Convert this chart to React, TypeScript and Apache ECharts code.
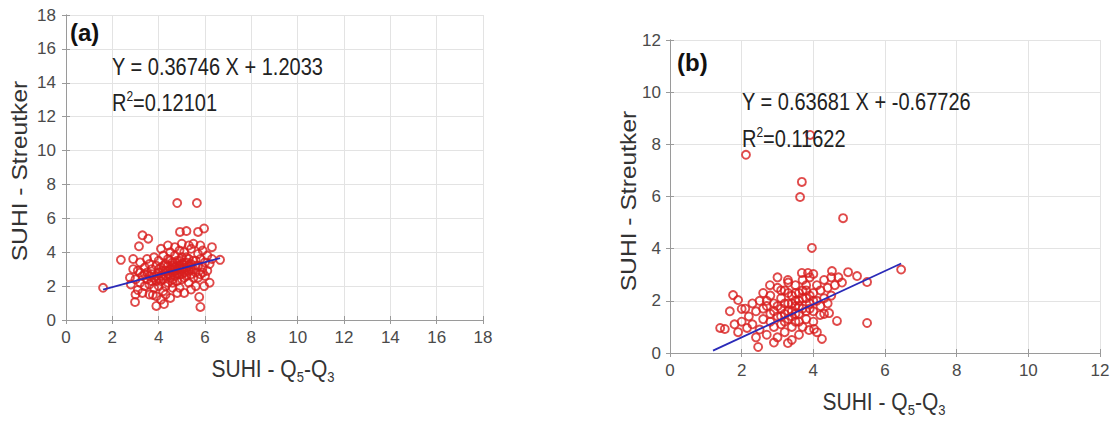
import React, { useEffect, useRef } from "react";
import * as echarts from "echarts";

const pointsA: number[][] = [
  [1.6, 1.9], [2.37, 3.55], [2.9, 3.6], [3.15, 4.35], [3.3, 5.0], [3.55, 4.8], [4.8, 6.9], [5.65, 6.9],
  [4.92, 5.2], [5.2, 5.25], [5.7, 5.2], [5.96, 5.4], [5.5, 4.5], [6.3, 4.3], [6.65, 3.55], [2.98, 1.06],
  [3.1, 1.77], [3.9, 0.83], [4.23, 0.94], [3.75, 1.48], [4.8, 1.6], [5.1, 1.6], [5.75, 1.36], [5.8, 0.77],
  [5.96, 2.0], [6.2, 2.2], [4.6, 2.2], [2.76, 2.5],
  [3.0, 2.4], [3.1, 2.9], [3.2, 2.2], [3.3, 2.6], [3.4, 3.1], [3.4, 2.0], [3.5, 2.8], [3.5, 2.4], [3.6, 3.3],
  [3.6, 2.1], [3.7, 2.7], [3.7, 3.0], [3.8, 2.5], [3.8, 1.9], [3.9, 3.2], [3.9, 2.3], [4.0, 2.8], [4.0, 3.5],
  [4.0, 2.0], [4.1, 2.6], [4.1, 3.1], [4.2, 2.4], [4.2, 3.8], [4.2, 1.7], [4.3, 2.9], [4.3, 3.3], [4.4, 2.2],
  [4.4, 2.7], [4.4, 3.6], [4.5, 3.0], [4.5, 2.5], [4.5, 4.0], [4.6, 2.8], [4.6, 3.4], [4.6, 1.9], [4.7, 3.1],
  [4.7, 2.6], [4.7, 3.8], [4.8, 2.3], [4.8, 2.9], [4.8, 3.5], [4.9, 3.2], [4.9, 2.7], [4.9, 4.1], [5.0, 3.0],
  [5.0, 2.4], [5.0, 3.7], [5.1, 2.8], [5.1, 3.4], [5.1, 4.0], [5.2, 3.1], [5.2, 2.6], [5.3, 3.6], [5.3, 2.9],
  [5.3, 2.2], [5.4, 3.3], [5.4, 4.2], [5.5, 3.0], [5.5, 2.5], [5.6, 3.5], [5.6, 2.8], [5.7, 3.9], [5.7, 3.2],
  [5.8, 2.7], [5.8, 3.6], [5.9, 3.1], [5.9, 4.1], [6.0, 3.4], [6.0, 2.6], [6.1, 3.8], [6.1, 2.9], [6.2, 3.3],
  [6.3, 3.6], [3.2, 3.4], [3.3, 1.6], [3.6, 1.5], [3.9, 1.4], [4.1, 1.2], [4.3, 1.5], [4.5, 1.3], [4.9, 1.9],
  [5.4, 1.8], [5.6, 2.0], [3.5, 3.6], [3.8, 3.7], [4.1, 4.2], [4.4, 4.4], [4.7, 4.3], [5.0, 4.5], [5.3, 4.4],
  [5.8, 4.4], [2.8, 2.1], [2.9, 3.0], [3.0, 1.5], [4.0, 3.0], [4.2, 3.2], [4.6, 3.0], [4.8, 2.7], [5.2, 3.4],
  [4.4, 2.9], [4.3, 2.6], [4.9, 3.5], [5.1, 3.1],
  [4.5, 2.7], [4.6, 3.2], [4.7, 2.9], [4.8, 3.2], [4.9, 3.0], [5.0, 2.7], [5.0, 3.3], [5.1, 2.5], [5.2, 2.9],
  [5.2, 3.7], [5.4, 2.7], [5.4, 3.0], [5.5, 3.5], [5.6, 3.2], [4.2, 2.9], [4.1, 2.3], [3.9, 2.6], [3.7, 2.3],
  [4.4, 3.2], [4.6, 2.4], [4.3, 2.0], [4.0, 2.4], [3.6, 2.6], [5.7, 2.5], [5.9, 2.8], [4.5, 3.5], [4.7, 3.4],
  [5.3, 3.2], [3.4, 2.7], [3.2, 2.8],
];

const pointsB: number[][] = [
  [3.91, 8.36], [2.12, 7.6], [3.68, 6.56], [3.63, 5.98], [4.83, 5.17], [3.96, 4.03], [5.5, 1.15], [5.5, 2.72],
  [4.52, 3.14], [4.97, 3.1], [5.22, 2.95], [4.24, 0.54], [2.46, 0.23], [3.29, 0.38], [4.66, 1.23], [1.4, 0.96],
  [1.53, 0.92], [1.67, 1.6], [1.76, 2.22], [1.9, 2.03], [2.0, 1.69], [2.15, 0.96], [2.79, 2.6], [3.29, 2.8],
  [3.68, 3.07], [3.85, 3.07], [4.0, 3.03], [3.88, 0.88], [4.02, 0.92], [4.44, 1.53], [4.19, 1.46], [6.45, 3.2],
  [2.3, 1.1], [2.4, 1.6], [2.5, 2.0], [2.5, 0.9], [2.6, 1.3], [2.6, 2.3], [2.7, 1.8], [2.7, 0.7], [2.8, 1.5],
  [2.8, 2.2], [2.9, 1.0], [2.9, 1.9], [3.0, 1.4], [3.0, 2.5], [3.0, 0.6], [3.1, 1.7], [3.1, 2.1], [3.1, 1.1],
  [3.2, 1.5], [3.2, 2.4], [3.2, 0.8], [3.3, 1.9], [3.3, 1.3], [3.4, 2.2], [3.4, 1.6], [3.4, 1.0], [3.5, 2.6],
  [3.5, 1.8], [3.5, 1.2], [3.6, 2.0], [3.6, 1.5], [3.7, 2.4], [3.7, 1.7], [3.7, 2.8], [3.8, 2.1], [3.8, 1.3],
  [3.8, 2.6], [3.9, 1.9], [3.9, 2.9], [4.0, 2.3], [4.0, 1.6], [4.1, 2.6], [4.1, 2.0], [4.2, 2.4], [4.2, 1.8],
  [4.3, 2.8], [4.3, 2.1], [4.4, 2.5], [4.5, 2.2], [4.6, 2.6], [4.7, 2.9], [4.8, 2.7], [2.2, 1.4], [2.3, 1.9],
  [2.4, 0.6], [2.0, 1.2], [2.1, 1.7], [1.8, 1.1], [1.9, 0.8], [3.0, 2.9], [2.9, 0.4], [3.4, 0.5], [3.6, 0.7],
  [3.7, 1.0], [4.0, 1.2], [4.1, 0.8], [2.6, 1.7], [2.8, 1.2], [3.3, 2.7], [3.5, 2.3], [3.9, 2.2], [4.4, 1.9],
  [3.2, 1.9], [3.6, 1.8], [3.1, 1.4], [3.8, 1.6], [2.7, 2.0], [4.3, 1.5], [4.5, 2.9], [3.4, 1.4],
  [3.0, 1.8], [3.1, 2.4], [3.3, 2.3], [3.4, 1.9], [3.5, 2.0], [3.6, 2.3], [3.7, 2.1], [3.8, 2.4], [3.9, 1.7],
  [3.2, 1.2], [2.9, 1.6], [3.3, 1.6], [3.6, 1.2], [4.0, 2.0], [3.5, 1.5],
];

const fitA: number[][] = [[1.6, 1.79], [6.65, 3.65]];
const fitB: number[][] = [[1.2, 0.09], [6.45, 3.43]];

const eqA = "Y = 0.36746 X + 1.2033";
const r2A = "0.12101";
const eqB = "Y = 0.63681 X + -0.67726";
const r2B = "0.11622";
const xName = "SUHI - Q{sub|5}-Q{sub|3}";
const yName = "SUHI - Streutker";

const FONT = "'Liberation Sans', Arial, sans-serif";

export default function App() {
  const ref = useRef<HTMLDivElement>(null);
  useEffect(() => {
    if (!ref.current) return;
    const chart = echarts.init(ref.current, undefined, { renderer: "svg" });

    const mkX = (grid: number, max: number, top: boolean) => ({
      type: "value",
      gridIndex: grid,
      min: 0,
      max,
      interval: 2,
      position: top ? "top" : "bottom",
      axisLine: { show: true, lineStyle: { color: "#9a9a9a", width: 1 } },
      axisTick: { show: true, inside: true, length: 4, lineStyle: { color: "#9a9a9a" } },
      axisLabel: {
        show: !top,
        margin: 9,
        fontSize: 17,
        color: "#4a4a4a",
        fontFamily: FONT,
      },
      splitLine: { show: !top, lineStyle: { color: "#e3e3e3", width: 1 } },
    });
    const mkY = (grid: number, max: number, right: boolean, margin: number) => ({
      type: "value",
      gridIndex: grid,
      min: 0,
      max,
      interval: 2,
      position: right ? "right" : "left",
      axisLine: { show: true, lineStyle: { color: "#9a9a9a", width: 1 } },
      axisTick: { show: true, inside: true, length: 4, lineStyle: { color: "#9a9a9a" } },
      axisLabel: {
        show: !right,
        margin,
        fontSize: 17,
        color: "#4a4a4a",
        fontFamily: FONT,
      },
      splitLine: { show: !right, lineStyle: { color: "#e3e3e3", width: 1 } },
    });

    const scatterStyle = {
      color: "rgba(0,0,0,0)",
      borderColor: "#d81e1e",
      borderWidth: 1.9,
    };

    const mkRich = (fs: number) => ({
      sub: { fontSize: Math.round(fs * 0.62), fontFamily: FONT, fill: "#333", color: "#333", verticalAlign: "bottom", lineHeight: fs + 6 },
      sup: { fontSize: Math.round(fs * 0.62), fontFamily: FONT, fill: "#222", color: "#222", verticalAlign: "top", lineHeight: fs + 4 },
    });

    const txt = (x: number, y: number, text: string, opts: any = {}) => {
      const fs = opts.fontSize || 20;
      return {
        type: "text",
        x,
        y,
        rotation: opts.rotation || 0,
        scaleX: opts.scaleX || 1,
        scaleY: opts.scaleY || 1,
        style: {
          text,
          fontSize: fs,
          fontWeight: opts.bold ? "bold" : "normal",
          fontFamily: FONT,
          fill: opts.fill || "#222",
          align: opts.align || "left",
          verticalAlign: "middle",
          lineHeight: fs + 4,
          rich: mkRich(fs),
        },
        z: 100,
      };
    };

    chart.setOption({
      animation: false,
      backgroundColor: "#ffffff",
      grid: [
        { left: 66, top: 15, width: 417, height: 305 },
        { left: 670, top: 40, width: 430, height: 313 },
      ],
      xAxis: [mkX(0, 18, false), mkX(1, 12, false), mkX(0, 18, true), mkX(1, 12, true)],
      yAxis: [mkY(0, 18, false, 10), mkY(1, 12, false, 9), mkY(0, 18, true, 10), mkY(1, 12, true, 9)],
      series: [
        {
          type: "scatter",
          xAxisIndex: 0,
          yAxisIndex: 0,
          data: pointsA,
          symbol: "circle",
          symbolSize: 8,
          itemStyle: scatterStyle,
        },
        {
          type: "line",
          xAxisIndex: 0,
          yAxisIndex: 0,
          data: fitA,
          symbol: "none",
          lineStyle: { color: "#2a2ab8", width: 1.8 },
          z: 5,
        },
        {
          type: "scatter",
          xAxisIndex: 1,
          yAxisIndex: 1,
          data: pointsB,
          symbol: "circle",
          symbolSize: 8,
          itemStyle: scatterStyle,
        },
        {
          type: "line",
          xAxisIndex: 1,
          yAxisIndex: 1,
          data: fitB,
          symbol: "none",
          lineStyle: { color: "#2a2ab8", width: 1.8 },
          z: 5,
        },
      ],
      graphic: [
        txt(70, 32, "(a)", { fontSize: 24, bold: true, fill: "#111" }),
        txt(112, 67, eqA, { fontSize: 20, scaleY: 1.15 }),
        txt(112, 103, "R{sup|2}=" + r2A, { fontSize: 20, scaleY: 1.15 }),
        txt(677, 62, "(b)", { fontSize: 24, bold: true, fill: "#111" }),
        txt(742, 102, eqB, { fontSize: 20, scaleY: 1.15 }),
        txt(742, 139, "R{sup|2}=" + r2B, { fontSize: 20, scaleY: 1.15 }),
        txt(273, 369, xName, { fontSize: 21, align: "center", fill: "#333", scaleY: 1.12 }),
        txt(884, 402, xName, { fontSize: 21, align: "center", fill: "#333", scaleY: 1.12 }),
        txt(19, 171, yName, { fontSize: 22, align: "center", fill: "#333", rotation: Math.PI / 2, scaleX: 1.12 }),
        txt(628, 201, yName, { fontSize: 22, align: "center", fill: "#333", rotation: Math.PI / 2, scaleX: 1.12 }),
      ],
    });
    return () => chart.dispose();
  }, []);
  return (
    <div
      ref={ref}
      style={{ position: "absolute", left: 0, top: 0, width: 1117, height: 422 }}
    />
  );
}
